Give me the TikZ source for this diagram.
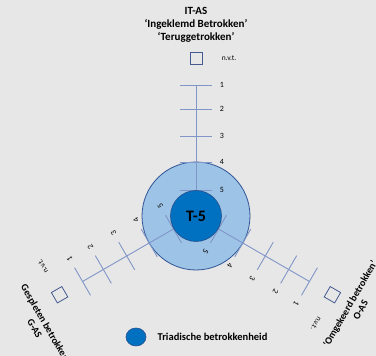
\documentclass[tikz,border=0pt]{standalone}
\usepackage{fontspec}
\setmainfont{Carlito}
\usetikzlibrary{positioning,calc}
\definecolor{bggray}{RGB}{231,231,231}
\definecolor{ringfill}{RGB}{157,195,230}
\definecolor{ringdraw}{RGB}{47,85,151}
\definecolor{corefill}{RGB}{0,112,192}
\definecolor{coredraw}{RGB}{40,80,140}
\definecolor{axisblue}{RGB}{128,150,200}
\definecolor{boxblue}{RGB}{68,90,145}
\tikzstyle{ring}=[circle,draw=ringdraw,fill=ringfill,line width=0.8pt,minimum size=108pt,inner sep=0pt]
\tikzstyle{core}=[circle,draw=coredraw,fill=corefill,line width=0.6pt,minimum size=51pt,inner sep=0pt,font=\fontsize{16}{16}\selectfont\bfseries]
\tikzstyle{axisline}=[draw=axisblue,line width=0.9pt]
\tikzstyle{ticklab}=[inner sep=0pt,font=\fontsize{8}{8}\selectfont]
\tikzstyle{nvtbox}=[draw=boxblue,line width=0.8pt,minimum size=12pt,inner sep=0pt]
\tikzstyle{nvtlab}=[inner sep=0pt,font=\fontsize{7.5}{7.5}\selectfont]
\tikzstyle{title}=[inner sep=0pt,align=center,font=\fontsize{11}{13}\selectfont\bfseries]
\tikzstyle{sidetitle}=[inner sep=0pt,align=center,font=\fontsize{10}{12}\selectfont\bfseries]
\tikzstyle{legdot}=[ellipse,draw=coredraw,fill=corefill,minimum width=20pt,minimum height=18pt,inner sep=0pt]
\tikzstyle{legtext}=[inner sep=0pt,font=\fontsize{10.5}{12}\selectfont\bfseries]
\usetikzlibrary{shapes.geometric}
% one axis: #1 name, #2 direction
\newcommand{\newAxis}[2]{
  \begin{scope}[shift={(c)},rotate=#2-90]
    \coordinate (#1end) at (0,131);
    \draw[axisline] (c) -- (#1end);
    \foreach \d/\n in {131/1,107/2,80/3,54/4,26/5}{
      \draw[axisline] (-16,\d) -- (16,\d);
      \node[ticklab,rotate=#2-90] (#1t\n) at (26,\d) {\n};
    }
    \node[nvtbox,rotate=#2-90] (#1box) at (0,157.5) {};
    \node[nvtlab,rotate=#2-90] (#1nvt) at (33,158) {n.v.t.};
  \end{scope}}

\begin{document}
\begin{tikzpicture}[x=1pt,y=1pt,semithick]
  \useasboundingbox[fill=bggray] (0,0) rectangle (376,356);
  \coordinate (c) at (196,140);
  \node[ring] (ring) at (c) {};
  \newAxis{it}{90}
  \newAxis{g}{210}
  \newAxis{o}{330}
  \node[core] (core) at (c) {T-5};
  % titles of the three axes
  \node[title] (ittitle) at ($(c)+(90:191)$) {IT-AS\\‘Ingeklemd Betrokken’\\‘Teruggetrokken’};
  \node[sidetitle,rotate=-60] (gtitle) at ($(c)+(210:190)+(300:17)$) {Gespleten betrokken\\G-AS};
  \node[sidetitle,rotate=60] (otitle) at ($(c)+(330:183)+(60:1)$) {‘Omgekeerd betrokken’\\O-AS};
  % legend
  \node[legdot] (leg) at (136,19) {};
  \node[legtext,right=11pt of leg] (legtxt) {Triadische betrokkenheid};
\end{tikzpicture}
\end{document}
